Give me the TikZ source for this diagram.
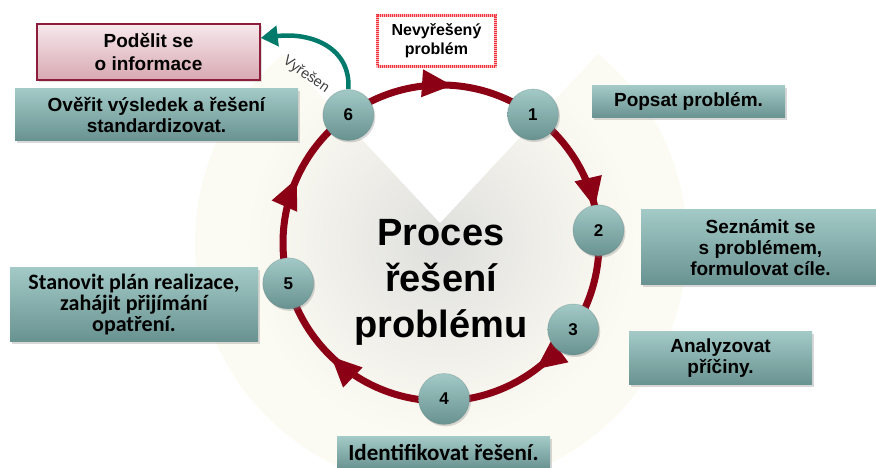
\documentclass[tikz,border=0pt]{standalone}
\usepackage{fontspec}
\setmainfont{Liberation Sans}
\newfontfamily\calib{Carlito}
\usetikzlibrary{shadows,arrows.meta}
\definecolor{ringred}{RGB}{140,0,22}
\definecolor{tealtop}{RGB}{162,201,198}
\definecolor{tealbot}{RGB}{104,146,144}
\definecolor{pinktop}{RGB}{246,232,235}
\definecolor{pinkbot}{RGB}{216,168,178}
\definecolor{pinkborder}{RGB}{140,30,60}
\definecolor{dashred}{RGB}{240,50,60}
\definecolor{arrowteal}{RGB}{0,122,106}
\definecolor{cream}{RGB}{252,251,243}
\definecolor{centergray}{RGB}{222,222,220}
\colorlet{midgray}{centergray!50!cream}
\pgfdeclareradialshading{bgshade}{\pgfpoint{0bp}{0bp}}{color(0bp)=(centergray); color(9bp)=(midgray); color(20bp)=(cream); color(50bp)=(cream)}
\begin{document}
\begin{tikzpicture}[x=1pt,y=1pt,
  stepcirc/.style={circle, minimum size=51pt, inner sep=0pt, top color=tealtop, bottom color=tealbot,
    draw=tealbot!80!black, draw opacity=0.25, line width=0.8pt,
    drop shadow={shadow xshift=1.5pt, shadow yshift=-2pt, opacity=0.3},
    font=\bfseries\fontsize{17}{17}\selectfont},
  tealbox/.style={rectangle, top color=tealtop, bottom color=tealbot, inner sep=0pt, align=center,
    drop shadow={shadow xshift=1.5pt, shadow yshift=-2pt, opacity=0.3},
    font=\bfseries\fontsize{19}{21}\selectfont},
  ringarrow/.style={fill=ringred}
]
\useasboundingbox (0,0) rectangle (876,468);
\fill[white] (0,0) rectangle (876,468);
\coordinate (C) at (441,225);
% background disc with grey centre
\shade[shading=bgshade] (C) circle (246);
% white wedge
\fill[white] (440,245) -- (160,545) -- (720,545) -- cycle;
% ring
\draw[ringred, line width=7pt] (C) circle (158);
% arrowheads on ring
\foreach \a in {86,13,-53,-134,156} {
  \begin{scope}[shift={(C)}, rotate=\a]
    \fill[ringarrow] (158,0) -- (172,30) -- (144,30) -- cycle;
  \end{scope}
}
% step circles
\node[stepcirc] (n1) at ([shift={(54.4:158)}]C) {1};
\node[stepcirc] (n2) at ([shift={(4.6:158)}]C) {2};
\node[stepcirc] (n3) at ([shift={(-33.2:158)}]C) {3};
\node[stepcirc] (n4) at ([shift={(-88.9:156)}]C) {4};
\node[stepcirc] (n5) at ([shift={(-165.2:158)}]C) {5};
\node[stepcirc] (n6) at ([shift={(125.9:158)}]C) {6};
% centre title
\node[align=center, font=\bfseries\fontsize{38}{46}\selectfont] (title) at (441,186) {Proces\\řešení\\problému};
% boxes
\node[tealbox, minimum width=283pt, minimum height=52pt] (b6) at (156.5,353) {Ověřit výsledek a řešení\\standardizovat.};
\node[rectangle, top color=pinktop, bottom color=pinkbot, draw=pinkborder, line width=1.5pt,
  minimum width=223pt, minimum height=56pt, inner sep=0pt, align=center,
  drop shadow={shadow xshift=1.5pt, shadow yshift=-2pt, opacity=0.25},
  font=\bfseries\fontsize{19}{23}\selectfont] (pod) at (148.5,416) {Podělit se\\o informace};
\node[rectangle, fill=white, draw=dashred!35, line width=3.2pt,
  postaction={draw=dashred, line width=3.2pt, dash pattern=on 1pt off 1pt},
  minimum width=118pt, minimum height=51pt, inner sep=0pt, align=center,
  font=\bfseries\fontsize{16}{19}\selectfont] (nev) at (436.5,427) {Nevyřešený\\problém};
\node[tealbox, minimum width=193pt, minimum height=32pt] (b1) at (688.5,366) {Popsat problém.};
\node[tealbox, minimum width=239pt, minimum height=75pt] (b2) at (760.5,220.5) {Seznámit se\\s problémem,\\formulovat cíle.};
\node[tealbox, minimum width=183pt, minimum height=53pt] (b3) at (720.5,109.5) {Analyzovat\\příčiny.};
\node[tealbox, minimum width=248pt, minimum height=74pt, font=\calib\bfseries\fontsize{22}{21}\selectfont] (b5) at (134,163) {Stanovit plán realizace,\\zahájit přijímání\\opatření.};
\node[tealbox, minimum width=213pt, minimum height=32pt, font=\calib\bfseries\fontsize{23}{23}\selectfont] (b4) at (443.5,15) {Identifikovat řešení.};
% solved arrow
\draw[arrowteal, line width=4.5pt, -{Triangle[length=17pt,width=20pt]}] (n6.north) .. controls (351,420) and (312,436) .. ([yshift=14pt]pod.east);
\node[rotate=-35, font=\fontsize{14.5}{14.5}\selectfont, text=black!75] (vy) at (306,393) {Vyřešen};
\end{tikzpicture}
\end{document}
